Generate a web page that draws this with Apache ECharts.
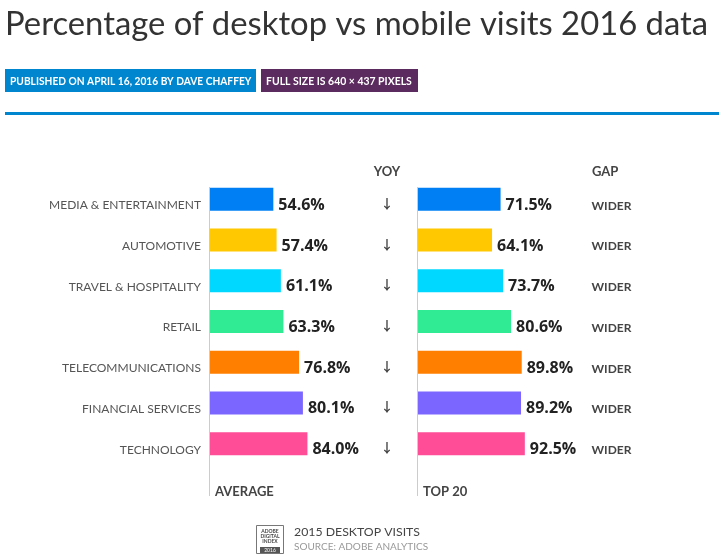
<!DOCTYPE html>
<html>
<head>
<meta charset="utf-8">
<style>
  html, body { margin: 0; padding: 0; background: #fff; }
  #main { width: 719px; height: 556px; }
</style>
<script src="https://cdn.jsdelivr.net/npm/echarts@6/dist/echarts.min.js"></script>
</head>
<body>
<div id="main"></div>
<script>
// 数据
const categories = ['MEDIA & ENTERTAINMENT', 'AUTOMOTIVE', 'TRAVEL & HOSPITALITY', 'RETAIL', 'TELECOMMUNICATIONS', 'FINANCIAL SERVICES', 'TECHNOLOGY']
const average = [54.6, 57.4, 61.1, 63.3, 76.8, 80.1, 84.0]
const top20 = [71.5, 64.1, 73.7, 80.6, 89.8, 89.2, 92.5]
const yoy = ['↓', '↓', '↓', '↓', '↓', '↓', '↓']
const gap = ['WIDER', 'WIDER', 'WIDER', 'WIDER', 'WIDER', 'WIDER', 'WIDER']
const barColors = ['#007FF5', '#FFC800', '#00D8FF', '#30EB94', '#FF7F00', '#7B66FF', '#FF4D97']

const font = 'Lato'
const txt = (x, y, text, size, color, weight, align, scaleX) => ({
  type: 'text', x: x, y: y, scaleX: scaleX || 1,
  style: { text: text, fontFamily: font, fontSize: size, fill: color, fontWeight: weight || 'normal', align: align || 'left', verticalAlign: 'middle' }
})
const box = (x, y, w, h, color) => ({ type: 'rect', shape: { x: x, y: y, width: w, height: h }, style: { fill: color } })

let barSeries = (idx, data) => ({
  type: 'bar',
  xAxisIndex: idx,
  yAxisIndex: idx * 2,
  data: data.map((v, i) => ({ value: v, itemStyle: { color: barColors[i] } })),
  barWidth: 23,
  label: {
    show: true,
    position: 'right',
    distance: 5,
    offset: [0, 6],
    formatter: p => p.value.toFixed(1) + '%',
    fontFamily: 'Open Sans',
    fontWeight: 'bold',
    fontSize: 16,
    color: '#222'
  }
})

let catAxis = (gridIndex, data, label, position) => ({
  type: 'category',
  gridIndex: gridIndex,
  inverse: true,
  position: position,
  data: data,
  axisLine: { show: false },
  axisTick: { show: false },
  // verticalAlign top + 小行高，让文字比柱子中心低几像素
  axisLabel: Object.assign({ interval: 0, fontFamily: font, verticalAlign: 'top' }, label)
})

let myChart = echarts.init(document.getElementById('main'))
myChart.setOption({
  animation: false,
  grid: [
    { left: 210, top: 179, width: 116, height: 285 },
    { left: 418, top: 179, width: 115.5, height: 285 }
  ],
  xAxis: [0, 1].map(i => ({ type: 'value', gridIndex: i, min: 0, max: 100, show: false })),
  yAxis: [
    catAxis(0, categories, { margin: 9, fontSize: 12, lineHeight: 12, color: '#555' }, 'left'),
    catAxis(0, yoy, { margin: 61, fontSize: 13, lineHeight: 7, color: '#444', align: 'center', fontFamily: 'Noto Sans CJK SC', fontWeight: 'bold' }, 'right'),
    catAxis(1, categories, { show: false }, 'left'),
    catAxis(1, gap, { margin: 58, fontSize: 12, lineHeight: 13, fontWeight: 'bold', color: '#444', align: 'left' }, 'right')
  ],
  series: [barSeries(0, average), barSeries(1, top20)],
  graphic: [
    txt(5, 24, 'Percentage of desktop vs mobile visits 2016 data', 32.8, '#333', 'normal'),
    box(5, 69, 251, 23, '#0085CF'),
    txt(10, 81, 'PUBLISHED ON APRIL 16, 2016 BY DAVE CHAFFEY', 12, '#fff', 'bold', 'left', 0.85),
    box(261, 69, 157, 23, '#5B2A5E'),
    txt(266, 81, 'FULL SIZE IS 640 × 437 PIXELS', 12, '#fff', 'bold', 'left', 0.87),
    box(5, 112, 714, 3, '#0085CF'),
    txt(387, 172, 'YOY', 13, '#444', 'bold', 'center'),
    txt(592, 172, 'GAP', 13, '#444', 'bold'),
    box(209, 187, 1, 309, '#ccc'),
    box(417, 187, 1, 309, '#ccc'),
    txt(215, 492, 'AVERAGE', 13, '#444', 'bold'),
    txt(423, 492, 'TOP 20', 13, '#444', 'bold'),
    // logo
    { type: 'rect', shape: { x: 256.5, y: 525.5, width: 27, height: 28 }, style: { fill: '#fff', stroke: '#777', lineWidth: 1 } },
    txt(270, 531, 'ADOBE', 5, '#444', 'bold', 'center'),
    txt(270, 536, 'DIGITAL', 5, '#444', 'bold', 'center'),
    txt(270, 541, 'INDEX', 5, '#444', 'bold', 'center'),
    box(260, 547, 20, 6, '#555'),
    txt(270, 550, '2016', 5, '#fff', 'normal', 'center'),
    txt(294, 532, '2015 DESKTOP VISITS', 12.3, '#444'),
    txt(294, 547, 'SOURCE: ADOBE ANALYTICS', 10, '#999')
  ]
})
</script>
</body>
</html>
